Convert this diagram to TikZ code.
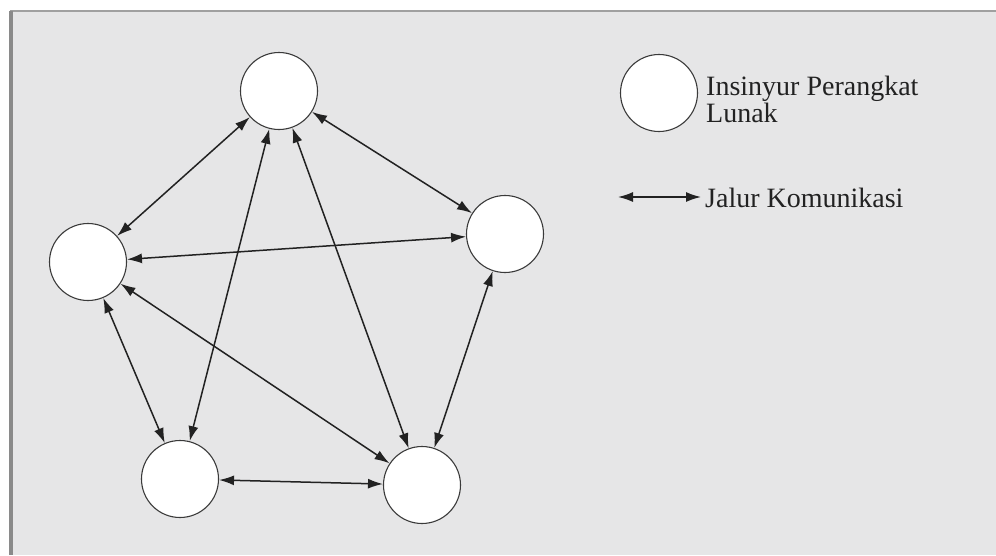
\documentclass[tikz,border=0pt]{standalone}
\usepackage{fontspec}
\setmainfont{Liberation Serif}
\usetikzlibrary{arrows.meta}
\definecolor{bggray}{HTML}{E6E6E7}
\definecolor{framegray}{HTML}{8A8A8A}
\definecolor{topgray}{HTML}{A0A0A0}
\definecolor{ink}{HTML}{222222}
\definecolor{circline}{HTML}{3A3A3A}
\tikzset{
  person/.style={circle, draw=circline, line width=1.1pt, fill=white, minimum size=77pt, inner sep=0pt},
  link/.style={draw=ink, line width=1.5pt, {Latex[length=15pt,width=10pt]}-{Latex[length=15pt,width=10pt]}},
  legend/.style={font=\fontsize{28}{25}\selectfont, text=ink, inner sep=0pt, anchor=base west, align=left}
}
\begin{document}
\begin{tikzpicture}[x=1pt,y=-1pt]
\useasboundingbox (0,0) rectangle (996,555);
\fill[white] (0,0) rectangle (996,555);
\fill[bggray] (11,11) rectangle (996,555);
\draw[topgray, line width=2pt] (10,10.5) -- (996,10.5);
\draw[framegray, line width=4pt] (10.5,11) -- (10.5,555);
% nodes
\node[person] (t) at (279,91) {};
\node[person] (l) at (88,262) {};
\node[person] (r) at (505,234) {};
\node[person] (bl) at (180,479) {};
\node[person] (br) at (422,485) {};
% connectors
\draw[link] (t) -- (l);
\draw[link] (t) -- (r);
\draw[link] (t) -- (bl);
\draw[link] (t) -- (br);
\draw[link] (l) -- (r);
\draw[link] (l) -- (bl);
\draw[link] (l) -- (br);
\draw[link] (r) -- (br);
\draw[link] (bl) -- (br);
% legend
\node[person] (lc) at (659,93) {};
\node[legend] (lt1) at (706,122) {Insinyur Perangkat\\Lunak};
\coordinate (la) at (618,197);
\coordinate (lb) at (701,197);
\draw[link] (la) -- (lb);
\node[legend] (lt3) at (705,207) {Jalur Komunikasi};
\end{tikzpicture}
\end{document}
